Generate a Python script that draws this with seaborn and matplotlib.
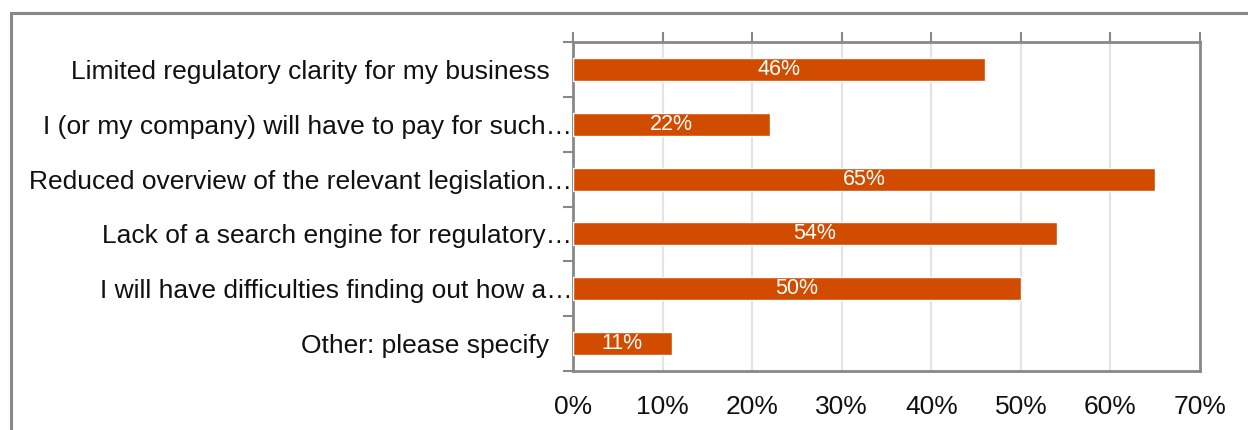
import matplotlib
matplotlib.use("Agg")
import matplotlib.pyplot as plt
from matplotlib.patches import Rectangle
from matplotlib.ticker import PercentFormatter
from matplotlib.transforms import ScaledTranslation
import seaborn as sns
import pandas as pd

categories = [
    "Limited regulatory clarity for my business",
    "I (or my company) will have to pay for such\u2026",
    "Reduced overview of the relevant legislation\u2026",
    "Lack of a search engine for regulatory\u2026",
    "I will have difficulties finding out how a\u2026",
    "Other: please specify",
]
shares = [0.46, 0.22, 0.65, 0.54, 0.50, 0.11]
x_ticks = [0.0, 0.1, 0.2, 0.3, 0.4, 0.5, 0.6, 0.7]

df = pd.DataFrame({"category": categories, "share": shares})

sns.set_theme(style="white")
plt.rcParams["font.family"] = ["Liberation Sans", "DejaVu Sans"]

BAR = "#D24C00"
SPINE = "#888888"
GRID = "#E3E3E3"
TEXT = "#111111"

fig = plt.figure(figsize=(12.48, 4.30), dpi=100)
W, H = 1248, 430
ax = fig.add_axes([573 / W, 1 - 371 / H, (1200 - 573) / W, (371 - 42) / H])

sns.barplot(data=df, x="share", y="category", orient="h", color=BAR,
            width=0.42, saturation=1, ax=ax, zorder=3)

ax.set_xlim(0, 0.7)
ax.set_ylim(len(categories) - 0.5, -0.5)
ax.set_xticks(x_ticks)
ax.xaxis.set_major_formatter(PercentFormatter(1.0, decimals=0))
ax.set_xlabel("")
ax.set_ylabel("")

ax.grid(axis="x", color=GRID, linewidth=1.5, zorder=0)
ax.set_axisbelow(True)

for side in ["left", "right", "top", "bottom"]:
    ax.spines[side].set_visible(True)
    ax.spines[side].set_color(SPINE)
    ax.spines[side].set_linewidth(2)

ax.tick_params(axis="x", top=True, bottom=False, labeltop=False, labelbottom=True,
               direction="out", length=7, width=1.5, color=SPINE,
               labelsize=19, labelcolor=TEXT, pad=10)
ax.set_yticks(range(len(categories)))
ax.set_yticklabels(categories)
ax.set_yticks([i - 0.5 for i in range(len(categories) + 1)], minor=True)
ax.tick_params(axis="y", which="major", length=0, labelsize=19,
               labelcolor=TEXT, pad=17)
ax.tick_params(axis="y", which="minor", left=True, direction="out",
               length=7, width=1.5, color=SPINE)

# truncated labels run right up to the axis line
for lab in ax.get_yticklabels():
    if lab.get_text().endswith("\u2026"):
        lab.set_transform(lab.get_transform()
                          + ScaledTranslation(23 / 100, 0, fig.dpi_scale_trans))

for patch, v in zip(ax.patches, shares):
    cy = patch.get_y() + patch.get_height() / 2
    ax.text(v / 2, cy, f"{v * 100:.0f}%", ha="center", va="center",
            color="white", fontsize=15.5, zorder=4)

# outer frame of the chart area
fig.patches.append(Rectangle((11 / W, -0.1), 1.2, 1 - 13 / H + 0.1,
                             transform=fig.transFigure, fill=False,
                             edgecolor=SPINE, linewidth=2.2))

fig.savefig("out.png", dpi=100)
